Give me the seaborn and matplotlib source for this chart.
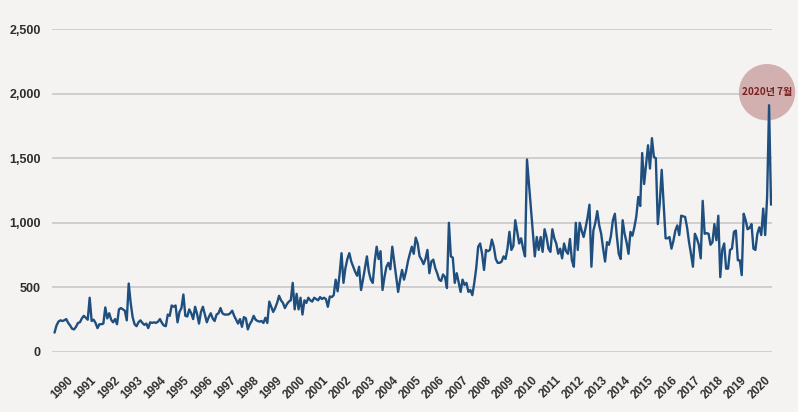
import numpy as np
import pandas as pd
import matplotlib
matplotlib.use("Agg")
import matplotlib.pyplot as plt
import matplotlib.transforms as mtransforms
import seaborn as sns

# Monthly values (Jan 1990 .. Aug 2020)
y1990 = [150, 205, 235, 245, 240, 245, 255, 225, 205, 180, 175, 195]
y1991 = [225, 230, 260, 280, 265, 250, 420, 240, 250, 225, 185, 215]
y1992 = [215, 220, 345, 260, 300, 250, 230, 255, 215, 330, 340, 330]
y1993 = [320, 245, 530, 380, 270, 215, 200, 230, 245, 225, 210, 220]
y1994 = [185, 230, 225, 230, 225, 235, 255, 225, 205, 200, 290, 280]
y1995 = [360, 350, 360, 230, 310, 340, 445, 280, 275, 330, 300, 255]
y1996 = [350, 295, 220, 310, 350, 290, 230, 270, 300, 260, 240, 290]
y1997 = [300, 340, 300, 290, 290, 290, 300, 320, 280, 250, 220, 255]
y1998 = [195, 270, 260, 175, 215, 240, 280, 250, 240, 235, 240, 225]
y1999 = [265, 225, 390, 350, 310, 340, 380, 435, 400, 380, 340, 370]
y2000 = [390, 400, 535, 330, 450, 330, 420, 290, 400, 380, 420, 400]
y2001 = [390, 420, 410, 400, 425, 410, 420, 410, 350, 430, 425, 440]
y2002 = [560, 470, 600, 765, 535, 650, 720, 765, 700, 660, 620, 590]
y2003 = [660, 480, 560, 650, 740, 620, 560, 535, 700, 815, 720, 780]
y2004 = [480, 580, 660, 690, 640, 815, 700, 580, 465, 560, 635, 560]
y2005 = [620, 700, 760, 815, 760, 885, 840, 740, 715, 680, 720, 790]
y2006 = [610, 700, 715, 650, 610, 560, 550, 600, 580, 495, 1000, 740]
y2007 = [730, 535, 610, 540, 465, 560, 520, 535, 465, 480, 440, 535]
y2008 = [650, 815, 840, 760, 635, 790, 780, 790, 870, 815, 720, 690]
y2009 = [690, 700, 740, 720, 800, 930, 790, 820, 1020, 930, 840, 880]
y2010 = [800, 740, 1490, 1300, 1100, 920, 740, 890, 790, 890, 775, 950]
y2011 = [890, 800, 775, 950, 880, 840, 760, 800, 725, 840, 780, 760]
y2012 = [875, 710, 660, 1000, 790, 1000, 940, 890, 960, 1040, 1140, 660]
y2013 = [940, 1000, 1090, 980, 915, 800, 700, 850, 830, 900, 1020, 1070]
y2014 = [900, 760, 720, 1020, 915, 850, 760, 930, 900, 965, 1050, 1200]
y2015 = [1130, 1540, 1300, 1450, 1600, 1420, 1655, 1510, 1500, 990, 1150, 1410]
y2016 = [1150, 880, 880, 890, 800, 860, 940, 980, 905, 1055, 1050, 1045]
y2017 = [965, 850, 760, 660, 915, 880, 830, 725, 1170, 915, 920, 915]
y2018 = [830, 850, 990, 865, 1055, 580, 790, 840, 645, 645, 790, 800]
y2019 = [930, 940, 710, 710, 595, 1070, 1020, 950, 960, 990, 800, 790]
y2020 = [915, 965, 905, 1110, 905, 1200, 1910, 1140]

year_labels = [str(y) for y in range(1990, 2021)]
y_ticks = [0, 500, 1000, 1500, 2000, 2500]
annot_text = "2020년 7월"

series = (y1990 + y1991 + y1992 + y1993 + y1994 + y1995 + y1996 + y1997 + y1998 + y1999 +
          y2000 + y2001 + y2002 + y2003 + y2004 + y2005 + y2006 + y2007 + y2008 + y2009 +
          y2010 + y2011 + y2012 + y2013 + y2014 + y2015 + y2016 + y2017 + y2018 + y2019 + y2020)
df = pd.DataFrame({"month": np.arange(len(series)), "value": series})

bg = "#f4f3f2"
sns.set_theme(style="white")
plt.rcParams["font.family"] = ["Liberation Sans", "Noto Sans CJK KR", "DejaVu Sans"]

fig = plt.figure(figsize=(7.98, 4.12), dpi=100, facecolor=bg)
ax = fig.add_axes([52 / 798, 1 - 352 / 412, (772 - 52) / 798, (352 - 29) / 412])
ax.set_facecolor(bg)

sns.lineplot(data=df, x="month", y="value", ax=ax, color="#1f4f7e", linewidth=1.7, zorder=5)

ax.set_xlim(-1.3, len(series) - 0.5)
ax.set_ylim(0, 2500)
ax.set_yticks(y_ticks)
ax.set_yticklabels([f"{v:,}" for v in y_ticks], fontsize=9, fontweight="bold", color="#2e2e2e")
ax.yaxis.grid(True, color="#cfcfcf", linewidth=1.4)
ax.xaxis.grid(False)
for s in ax.spines.values():
    s.set_visible(False)
ax.tick_params(axis="y", length=0, pad=8)

tick_pos = [8.7 + 11.9 * k for k in range(len(year_labels))]
ax.set_xticks(tick_pos)
ax.set_xticklabels(year_labels, rotation=45, ha="right", va="center",
                   rotation_mode="anchor", fontsize=8.4, fontweight="bold", color="#2e2e2e")
ax.tick_params(axis="x", length=0, pad=19)
ax.set_xlabel("")
ax.set_ylabel("")

# highlight circle at the July 2020 peak
peak_idx = int(np.argmax(series))
peak_val = series[peak_idx]
tr = mtransforms.offset_copy(ax.transData, fig=fig, x=-2, y=13, units="dots")
ax.scatter([peak_idx], [peak_val], s=1650, color="#c9a09e", alpha=0.8,
           edgecolors="none", transform=tr, clip_on=False, zorder=3)
ax.text(peak_idx, peak_val, annot_text, transform=tr, ha="center", va="center",
        fontsize=7.2, fontweight="bold", color="#7a1f1f",
        family=["Noto Sans CJK KR", "DejaVu Sans"], zorder=6, clip_on=False)

fig.savefig("out.png", dpi=100, facecolor=bg)
